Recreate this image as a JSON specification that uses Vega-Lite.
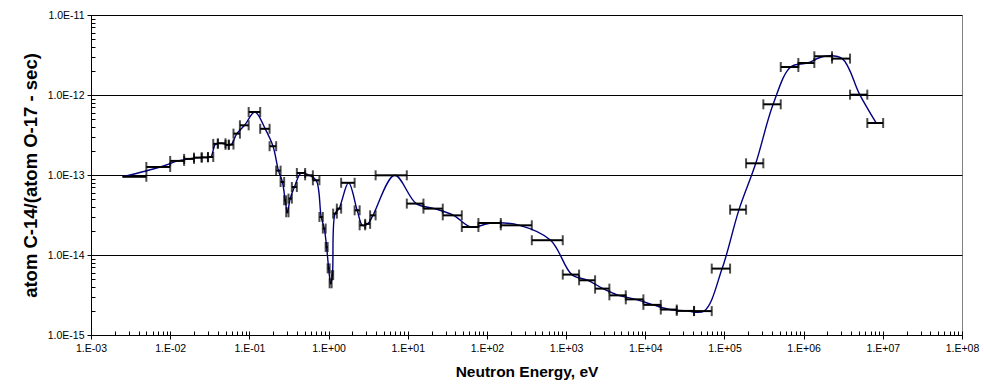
{
  "$schema": "https://vega.github.io/schema/vega-lite/v6.json",
  "width": 871,
  "height": 320,
  "autosize": {"type": "none"},
  "padding": {"left": 91, "top": 15, "right": 22, "bottom": 54},
  "config": {
    "view": {"stroke": "#808080", "strokeWidth": 1},
    "font": "Liberation Sans",
    "axis": {"labelFont": "Liberation Sans", "titleFont": "Liberation Sans", "labelColor": "black", "titleColor": "black"}
  },
  "data": {
    "values": [
      {"E": 0.0025, "lo": 0.0025, "hi": 0.005, "R": 9.5e-14},
      {"E": 0.0075, "lo": 0.005, "hi": 0.01, "R": 1.26e-13},
      {"E": 0.0125, "lo": 0.01, "hi": 0.015, "R": 1.5e-13},
      {"E": 0.0175, "lo": 0.015, "hi": 0.02, "R": 1.59e-13},
      {"E": 0.0225, "lo": 0.02, "hi": 0.025, "R": 1.65e-13},
      {"E": 0.0275, "lo": 0.025, "hi": 0.03, "R": 1.66e-13},
      {"E": 0.0325, "lo": 0.03, "hi": 0.035, "R": 1.68e-13},
      {"E": 0.0375, "lo": 0.035, "hi": 0.04, "R": 2.45e-13},
      {"E": 0.045, "lo": 0.04, "hi": 0.05, "R": 2.49e-13},
      {"E": 0.0525, "lo": 0.05, "hi": 0.055, "R": 2.38e-13},
      {"E": 0.059, "lo": 0.055, "hi": 0.063, "R": 2.4e-13},
      {"E": 0.0695, "lo": 0.063, "hi": 0.076, "R": 3.29e-13},
      {"E": 0.087, "lo": 0.076, "hi": 0.098, "R": 4.18e-13},
      {"E": 0.1175, "lo": 0.098, "hi": 0.137, "R": 6.13e-13},
      {"E": 0.1585, "lo": 0.137, "hi": 0.18, "R": 3.78e-13},
      {"E": 0.199, "lo": 0.18, "hi": 0.218, "R": 2.29e-13},
      {"E": 0.233, "lo": 0.218, "hi": 0.248, "R": 1.135e-13},
      {"E": 0.2615, "lo": 0.248, "hi": 0.275, "R": 8.17e-14},
      {"E": 0.2835, "lo": 0.275, "hi": 0.292, "R": 4.83e-14},
      {"E": 0.302, "lo": 0.292, "hi": 0.312, "R": 3.42e-14},
      {"E": 0.328, "lo": 0.312, "hi": 0.344, "R": 5.07e-14},
      {"E": 0.371, "lo": 0.344, "hi": 0.398, "R": 7.08e-14},
      {"E": 0.452, "lo": 0.398, "hi": 0.506, "R": 1.06e-13},
      {"E": 0.57, "lo": 0.506, "hi": 0.634, "R": 9.91e-14},
      {"E": 0.7, "lo": 0.634, "hi": 0.767, "R": 8.59e-14},
      {"E": 0.807, "lo": 0.767, "hi": 0.847, "R": 2.99e-14},
      {"E": 0.883, "lo": 0.847, "hi": 0.919, "R": 2.14e-14},
      {"E": 0.946, "lo": 0.919, "hi": 0.974, "R": 1.26e-14},
      {"E": 1.003, "lo": 0.974, "hi": 1.032, "R": 6.8e-15},
      {"E": 1.063, "lo": 1.032, "hi": 1.094, "R": 4.43e-15},
      {"E": 1.118, "lo": 1.094, "hi": 1.143, "R": 5.6e-15},
      {"E": 1.208, "lo": 1.143, "hi": 1.273, "R": 3.29e-14},
      {"E": 1.358, "lo": 1.273, "hi": 1.443, "R": 3.8e-14},
      {"E": 1.79, "lo": 1.443, "hi": 2.135, "R": 7.99e-14},
      {"E": 2.3, "lo": 2.135, "hi": 2.47, "R": 3.62e-14},
      {"E": 2.68, "lo": 2.47, "hi": 2.9, "R": 2.35e-14},
      {"E": 3.12, "lo": 2.9, "hi": 3.35, "R": 2.45e-14},
      {"E": 3.64, "lo": 3.35, "hi": 3.93, "R": 3.13e-14},
      {"E": 6.84, "lo": 3.93, "hi": 9.74, "R": 9.91e-14},
      {"E": 12.8, "lo": 9.74, "hi": 15.8, "R": 4.39e-14},
      {"E": 21.75, "lo": 15.8, "hi": 27.7, "R": 3.8e-14},
      {"E": 37.9, "lo": 27.7, "hi": 48.2, "R": 3.13e-14},
      {"E": 63.2, "lo": 48.2, "hi": 78.1, "R": 2.24e-14},
      {"E": 114, "lo": 78.1, "hi": 149.8, "R": 2.51e-14},
      {"E": 259, "lo": 149.8, "hi": 369, "R": 2.35e-14},
      {"E": 638, "lo": 369, "hi": 908, "R": 1.53e-14},
      {"E": 1183, "lo": 908, "hi": 1459, "R": 5.69e-15},
      {"E": 1891, "lo": 1459, "hi": 2323, "R": 4.83e-15},
      {"E": 2922, "lo": 2323, "hi": 3522, "R": 3.8e-15},
      {"E": 4600, "lo": 3522, "hi": 5675, "R": 3.13e-15},
      {"E": 7570, "lo": 5675, "hi": 9465, "R": 2.79e-15},
      {"E": 12580, "lo": 9465, "hi": 15700, "R": 2.38e-15},
      {"E": 20350, "lo": 15700, "hi": 25000, "R": 2.08e-15},
      {"E": 33150, "lo": 25000, "hi": 41300, "R": 2.0e-15},
      {"E": 55200, "lo": 41300, "hi": 69100, "R": 1.99e-15},
      {"E": 93450, "lo": 69100, "hi": 117800, "R": 6.76e-15},
      {"E": 152650, "lo": 117800, "hi": 187500, "R": 3.69e-14},
      {"E": 248650, "lo": 187500, "hi": 309800, "R": 1.4e-13},
      {"E": 411900, "lo": 309800, "hi": 514000, "R": 7.65e-13},
      {"E": 685750, "lo": 514000, "hi": 857500, "R": 2.24e-12},
      {"E": 1111000, "lo": 857500, "hi": 1365000, "R": 2.51e-12},
      {"E": 1824500, "lo": 1365000, "hi": 2284000, "R": 3.05e-12},
      {"E": 3070000, "lo": 2284000, "hi": 3855000, "R": 2.85e-12},
      {"E": 5110000, "lo": 3855000, "hi": 6370000, "R": 1.01e-12},
      {"E": 8240000, "lo": 6370000, "hi": 10100000, "R": 4.47e-13}
    ]
  },
  "resolve": {"axis": {"x": "independent", "y": "independent"}},
  "layer": [
    {
      "mark": {"type": "line", "interpolate": "catmull-rom", "color": "#000080", "strokeWidth": 1.4},
      "encoding": {
        "x": {
          "field": "E", "type": "quantitative",
          "scale": {"type": "log", "domain": [0.001, 100000000]},
          "axis": {
            "orient": "bottom",
            "title": "Neutron Energy, eV",
            "titleFontSize": 15.5, "titleFontWeight": "bold", "titlePadding": 11,
            "values": [0.001, 0.01, 0.1, 1, 10, 100, 1000, 10000, 100000, 1000000, 10000000, 100000000],
            "labelExpr": "'1.E' + (round(log(datum.value)/LN10) < 0 ? '-' : '+') + (abs(round(log(datum.value)/LN10)) < 10 ? '0' : '') + abs(round(log(datum.value)/LN10))",
            "labelFontSize": 10.5, "labelPadding": 4, "labelFlush": false,
            "tickSize": 4, "tickColor": "black", "domainColor": "black", "grid": false
          }
        },
        "y": {
          "field": "R", "type": "quantitative",
          "scale": {"type": "log", "domain": [1e-15, 1e-11]},
          "axis": {
            "orient": "left",
            "title": "atom C-14/(atom O-17 - sec)",
            "titleFontSize": 18.5, "titleFontWeight": "bold", "titlePadding": 7,
            "values": [1e-15, 1e-14, 1e-13, 1e-12, 1e-11],
            "labelExpr": "'1.0E' + (round(log(datum.value)/LN10) < 0 ? '-' : '+') + (abs(round(log(datum.value)/LN10)) < 10 ? '0' : '') + abs(round(log(datum.value)/LN10))",
            "labelFontSize": 10.5, "labelPadding": 3, "labelFlush": false,
            "tickSize": 4, "tickColor": "black", "domainColor": "black",
            "grid": true, "gridColor": "black", "gridWidth": 1
          }
        }
      }
    },
    {
      "mark": {"type": "rule", "color": "black", "strokeWidth": 2},
      "encoding": {
        "x": {"field": "lo", "type": "quantitative", "scale": {"type": "log", "domain": [0.001, 100000000]}, "axis": null},
        "x2": {"field": "hi"},
        "y": {"field": "R", "type": "quantitative", "scale": {"type": "log", "domain": [1e-15, 1e-11]}, "axis": null}
      }
    },
    {
      "transform": [{"filter": "datum.lo < datum.E"}],
      "mark": {"type": "tick", "orient": "vertical", "size": 10, "thickness": 2, "color": "black"},
      "encoding": {
        "x": {"field": "lo", "type": "quantitative", "scale": {"type": "log", "domain": [0.001, 100000000]}, "axis": null},
        "y": {"field": "R", "type": "quantitative", "scale": {"type": "log", "domain": [1e-15, 1e-11]}, "axis": null}
      }
    },
    {
      "mark": {"type": "tick", "orient": "vertical", "size": 10, "thickness": 2, "color": "black"},
      "encoding": {
        "x": {
          "field": "hi", "type": "quantitative", "scale": {"type": "log", "domain": [0.001, 100000000]},
          "axis": {
            "orient": "bottom", "title": null, "labels": false, "domain": false, "grid": false,
            "tickSize": -4, "tickColor": "black",
            "values": [0.001,0.002,0.003,0.004,0.005,0.006,0.007,0.008,0.009,0.01,0.02,0.03,0.04,0.05,0.06,0.07,0.08,0.09,0.1,0.2,0.3,0.4,0.5,0.6,0.7,0.8,0.9,1,2,3,4,5,6,7,8,9,10,20,30,40,50,60,70,80,90,100,200,300,400,500,600,700,800,900,1000,2000,3000,4000,5000,6000,7000,8000,9000,10000,20000,30000,40000,50000,60000,70000,80000,90000,100000,200000,300000,400000,500000,600000,700000,800000,900000,1000000,2000000,3000000,4000000,5000000,6000000,7000000,8000000,9000000,10000000,20000000,30000000,40000000,50000000,60000000,70000000,80000000,90000000,100000000]
          }
        },
        "y": {
          "field": "R", "type": "quantitative", "scale": {"type": "log", "domain": [1e-15, 1e-11]},
          "axis": {
            "orient": "left", "title": null, "labels": false, "domain": false, "grid": false,
            "tickSize": -4, "tickColor": "black",
            "values": [1e-15,2e-15,3e-15,4e-15,5e-15,6e-15,7e-15,8e-15,9e-15,1e-14,2e-14,3e-14,4e-14,5e-14,6e-14,7e-14,8e-14,9e-14,1e-13,2e-13,3e-13,4e-13,5e-13,6e-13,7e-13,8e-13,9e-13,1e-12,2e-12,3e-12,4e-12,5e-12,6e-12,7e-12,8e-12,9e-12,1e-11]
          }
        }
      }
    }
  ]
}
